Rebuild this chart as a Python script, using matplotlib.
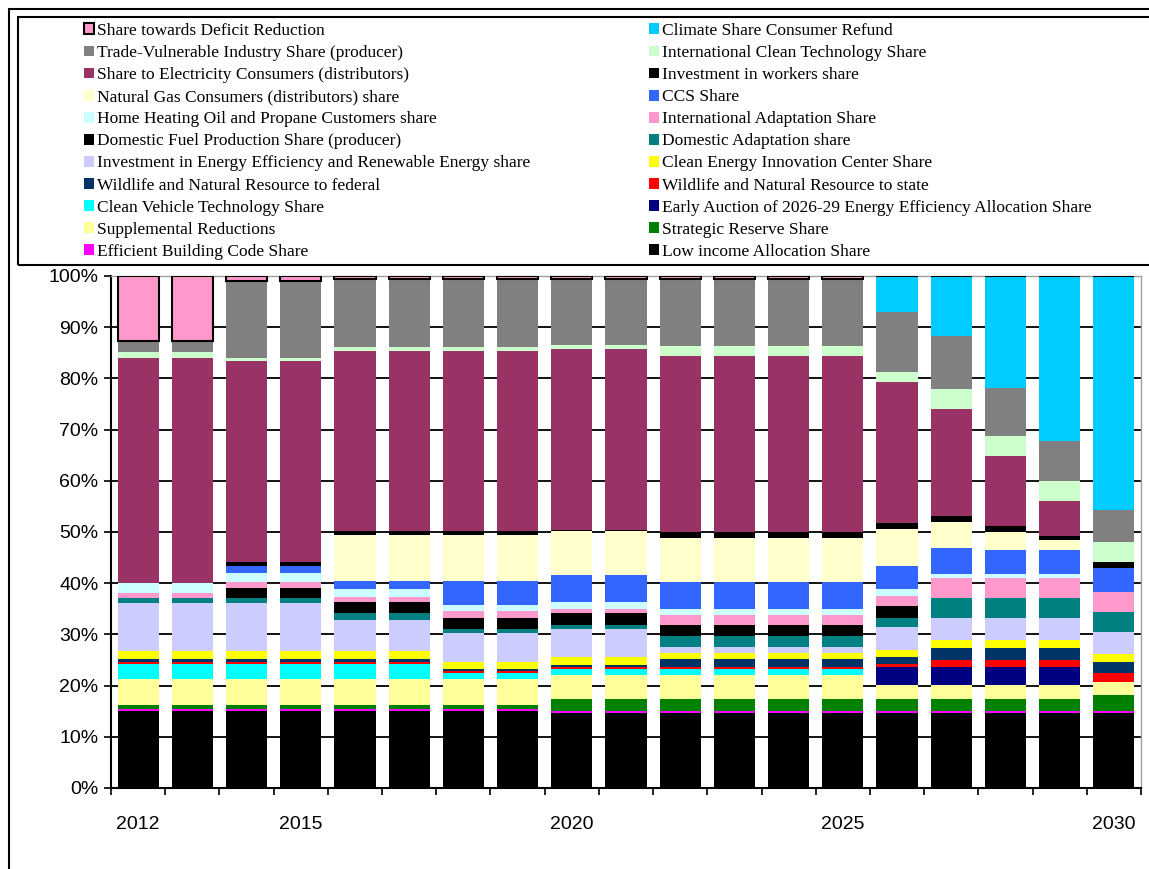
import numpy as np
import matplotlib.pyplot as plt
from matplotlib.patches import Patch, Rectangle

years = list(range(2012, 2031))

# shares in percent, one value per year 2012..2030
low_income    = [15.0, 15.0, 15.0, 15.0, 15.0, 15.0, 15.0, 15.0, 14.7, 14.7, 14.7, 14.7, 14.7, 14.7, 14.7, 14.7, 14.7, 14.7, 14.7]
bldg_code     = [0.4, 0.4, 0.4, 0.4, 0.4, 0.4, 0.4, 0.4, 0.4, 0.4, 0.35, 0.35, 0.35, 0.35, 0.35, 0.35, 0.35, 0.35, 0.35]
strat_reserve = [0.8, 0.8, 0.8, 0.8, 0.8, 0.8, 0.8, 0.8, 2.3, 2.3, 2.3, 2.3, 2.3, 2.3, 2.3, 2.3, 2.3, 2.3, 3.1]
supplemental  = [5.0, 5.0, 5.0, 5.0, 5.0, 5.0, 5.0, 5.0, 4.7, 4.7, 4.7, 4.7, 4.7, 4.7, 2.7, 2.7, 2.7, 2.7, 2.6]
early_auction = [0, 0, 0, 0, 0, 0, 0, 0, 0, 0, 0, 0, 0, 0, 3.6, 3.6, 3.6, 3.6, 0]
clean_vehicle = [3.1, 3.1, 3.1, 3.1, 3.1, 3.1, 1.2, 1.2, 1.1, 1.1, 1.2, 1.2, 1.2, 1.2, 0, 0, 0, 0, 0]
wild_state    = [0.4, 0.4, 0.4, 0.4, 0.4, 0.4, 0.5, 0.5, 0.5, 0.5, 0.45, 0.45, 0.45, 0.45, 0.65, 1.4, 1.4, 1.4, 1.75]
wild_federal  = [0.4, 0.4, 0.4, 0.4, 0.4, 0.4, 0.3, 0.3, 0.3, 0.3, 1.5, 1.5, 1.5, 1.5, 1.2, 2.35, 2.35, 2.35, 2.15]
innovation    = [1.6, 1.6, 1.6, 1.6, 1.6, 1.6, 1.5, 1.5, 1.5, 1.5, 1.2, 1.2, 1.2, 1.2, 1.55, 1.55, 1.55, 1.55, 1.6]
efficiency    = [9.4, 9.4, 9.4, 9.4, 6.2, 6.2, 5.5, 5.5, 5.5, 5.5, 1.2, 1.2, 1.2, 1.2, 4.3, 4.3, 4.3, 4.3, 4.2]
dom_adapt     = [1.1, 1.1, 1.1, 1.1, 1.2, 1.2, 0.8, 0.8, 0.8, 0.8, 2.0, 2.0, 2.0, 2.0, 1.95, 3.9, 3.9, 3.9, 3.9]
dom_fuel      = [0, 0, 1.9, 1.9, 2.3, 2.3, 2.3, 2.3, 2.3, 2.3, 2.2, 2.2, 2.2, 2.2, 2.3, 0, 0, 0, 0]
intl_adapt    = [0.8, 0.8, 1.2, 1.2, 0.9, 0.9, 1.2, 1.2, 0.8, 0.8, 2.0, 2.0, 2.0, 2.0, 1.95, 3.9, 3.9, 3.9, 3.9]
heating_oil   = [2.0, 2.0, 1.6, 1.6, 1.6, 1.6, 1.2, 1.2, 1.5, 1.5, 1.25, 1.25, 1.25, 1.25, 1.25, 0.8, 0.8, 0.8, 0]
ccs           = [0, 0, 1.5, 1.5, 1.5, 1.5, 4.7, 4.7, 5.2, 5.2, 5.1, 5.1, 5.1, 5.1, 4.6, 5.1, 4.7, 4.55, 4.7]
natural_gas   = [0, 0, 0, 0, 9.0, 9.0, 9.1, 9.1, 8.5, 8.5, 8.6, 8.6, 8.6, 8.6, 7.1, 5.0, 3.45, 1.95, 0]
workers       = [0, 0, 0.8, 0.8, 0.8, 0.8, 0.7, 0.7, 0.3, 0.3, 1.2, 1.2, 1.2, 1.2, 1.2, 1.2, 1.2, 0.85, 1.2]
electricity   = [44.0, 44.0, 39.2, 39.2, 35.1, 35.1, 35.1, 35.1, 35.3, 35.3, 34.45, 34.45, 34.45, 34.45, 27.6, 20.8, 13.6, 6.9, 0]
intl_clean    = [1.2, 1.2, 0.6, 0.6, 0.8, 0.8, 0.8, 0.8, 0.8, 0.8, 1.9, 1.9, 1.9, 1.9, 2.0, 3.9, 3.9, 3.9, 3.9]
trade         = [2.1, 2.1, 15.0, 15.0, 13.4, 13.4, 13.4, 13.4, 13.0, 13.0, 13.2, 13.2, 13.2, 13.2, 11.7, 10.5, 9.4, 7.7, 6.3]
climate       = [0, 0, 0, 0, 0, 0, 0, 0, 0, 0, 0, 0, 0, 0, 7.0, 11.65, 21.9, 32.3, 45.6]
deficit       = [12.7, 12.7, 1.0, 1.0, 0.5, 0.5, 0.5, 0.5, 0.5, 0.5, 0.5, 0.5, 0.5, 0.5, 0, 0, 0, 0, 0]

# bottom to top
stack = [
    ("Low income Allocation Share", low_income, "#000000"),
    ("Efficient Building Code Share", bldg_code, "#FF00FF"),
    ("Strategic Reserve Share", strat_reserve, "#008000"),
    ("Supplemental Reductions", supplemental, "#FFFF99"),
    ("Early Auction of 2026-29 Energy Efficiency Allocation Share", early_auction, "#000080"),
    ("Clean Vehicle Technology Share", clean_vehicle, "#00FFFF"),
    ("Wildlife and Natural Resource to state", wild_state, "#FF0000"),
    ("Wildlife and Natural Resource to federal", wild_federal, "#003366"),
    ("Clean Energy Innovation Center Share", innovation, "#FFFF00"),
    ("Investment in Energy Efficiency and Renewable Energy share", efficiency, "#CCCCFF"),
    ("Domestic Adaptation share", dom_adapt, "#008080"),
    ("Domestic Fuel Production Share (producer)", dom_fuel, "#000000"),
    ("International Adaptation Share", intl_adapt, "#FF99CC"),
    ("Home Heating Oil and Propane Customers share", heating_oil, "#CCFFFF"),
    ("CCS Share", ccs, "#3366FF"),
    ("Natural Gas Consumers (distributors) share", natural_gas, "#FFFFCC"),
    ("Investment in workers share", workers, "#000000"),
    ("Share to Electricity Consumers (distributors)", electricity, "#993366"),
    ("International Clean Technology Share", intl_clean, "#CCFFCC"),
    ("Trade-Vulnerable Industry Share (producer)", trade, "#808080"),
    ("Climate Share Consumer Refund", climate, "#00CCFF"),
    ("Share towards Deficit Reduction", deficit, "#FF99CC"),
]

left_col = ["Share towards Deficit Reduction", "Trade-Vulnerable Industry Share (producer)",
            "Share to Electricity Consumers (distributors)", "Natural Gas Consumers (distributors) share",
            "Home Heating Oil and Propane Customers share", "Domestic Fuel Production Share (producer)",
            "Investment in Energy Efficiency and Renewable Energy share",
            "Wildlife and Natural Resource to federal", "Clean Vehicle Technology Share",
            "Supplemental Reductions", "Efficient Building Code Share"]
right_col = ["Climate Share Consumer Refund", "International Clean Technology Share",
             "Investment in workers share", "CCS Share", "International Adaptation Share",
             "Domestic Adaptation share", "Clean Energy Innovation Center Share",
             "Wildlife and Natural Resource to state",
             "Early Auction of 2026-29 Energy Efficiency Allocation Share",
             "Strategic Reserve Share", "Low income Allocation Share"]

W, H = 1149, 869
fig = plt.figure(figsize=(W / 100, H / 100), dpi=100)
ax = fig.add_axes([111 / W, 1 - 788 / H, 1030 / W, 512 / H])

x = np.arange(len(years))
bottom = np.zeros(len(years))
colors = {}
for label, vals, col in stack:
    vals = np.array(vals, dtype=float)
    colors[label] = col
    if label.startswith("Share towards Deficit"):
        ax.bar(x, vals, 0.76, bottom=bottom, color=col, edgecolor="black", linewidth=1.5, zorder=3)
    else:
        ax.bar(x, vals, 0.76, bottom=bottom, color=col, edgecolor="none", zorder=3)
    bottom += vals

ax.set_xlim(-0.5, len(years) - 0.5)
ax.set_ylim(0, 100)
ax.set_yticks(np.arange(0, 101, 10))
ax.set_yticklabels([f"{v}%" for v in range(0, 101, 10)], fontsize=14, family="Liberation Sans")
ax.yaxis.grid(True, color="black", linewidth=1.3, zorder=0)
ax.set_axisbelow(True)

lab_years = [2012, 2015, 2020, 2025, 2030]
ax.set_xticks([years.index(y) for y in lab_years])
ax.set_xticklabels([str(y) for y in lab_years], fontsize=14, family="Liberation Sans")
ax.set_xticks(np.arange(-0.5, len(years)), minor=True)
ax.tick_params(axis="x", which="major", length=0, pad=20)
ax.tick_params(axis="x", which="minor", length=5, width=1.2, direction="out")
ax.tick_params(axis="y", length=5, width=1.2, pad=4)
ax.spines["left"].set_linewidth(1.5)
ax.spines["bottom"].set_linewidth(1.5)
for s in ["top", "right"]:
    ax.spines[s].set_color("#a0a0a0")
    ax.spines[s].set_linewidth(1)

def handles(names):
    out = []
    for n in names:
        if n.startswith("Share towards Deficit"):
            out.append(Patch(facecolor=colors[n], edgecolor="black", linewidth=1.5, label=n))
        else:
            out.append(Patch(facecolor=colors[n], edgecolor="none", label=n))
    return out

legend_kw = dict(loc="upper left", frameon=False, borderpad=0, borderaxespad=0,
                 handlelength=0.58, handleheight=0.58, handletextpad=0.15, labelspacing=0.35,
                 prop={"family": "Liberation Serif", "size": 12.5})
fig.legend(handles=handles(left_col), bbox_to_anchor=(84 / W, 1 - 23 / H), **legend_kw)
fig.legend(handles=handles(right_col), bbox_to_anchor=(649 / W, 1 - 23 / H), **legend_kw)

# legend box and chart area border
fig.patches.append(Rectangle((18 / W, 1 - 265 / H), (W + 10 - 18) / W, 248 / H, transform=fig.transFigure,
                             fill=False, edgecolor="black", linewidth=1.5))
fig.patches.append(Rectangle((9 / W, -0.05), (W + 10) / W, 1.05 - 9 / H, transform=fig.transFigure,
                             fill=False, edgecolor="black", linewidth=1.5))

fig.savefig("out.png", dpi=100)
